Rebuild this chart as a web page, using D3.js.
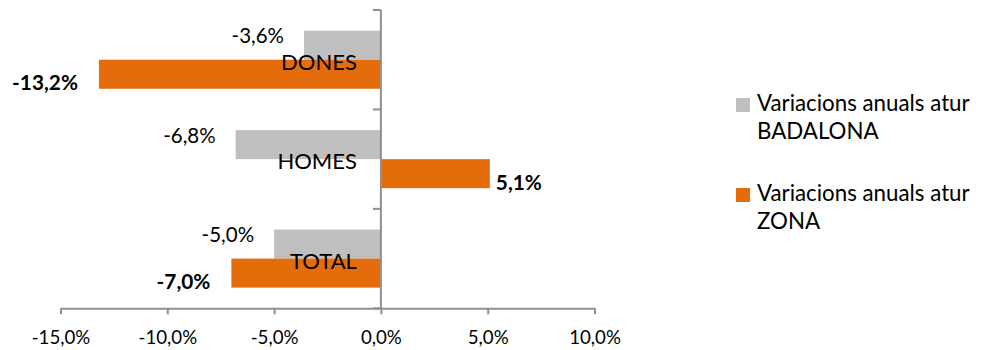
<!DOCTYPE html>
<html>
<head>
<meta charset="utf-8">
<script src="https://cdn.jsdelivr.net/npm/d3@7"></script>
<style>
  html, body { margin: 0; padding: 0; background: #fff; }
  svg { display: block; font-family: Lato, "Noto Sans", sans-serif; }
</style>
</head>
<body>
<svg id="chart" width="982" height="350"></svg>
<script>
// ---- data ----
const categories = ["DONES", "HOMES", "TOTAL"];
const seriesNames = ["Variacions anuals atur BADALONA", "Variacions anuals atur ZONA"];
const legendLines = [["Variacions anuals atur", "BADALONA"], ["Variacions anuals atur", "ZONA"]];
const badalona = [-3.6, -6.8, -5.0];
const zona = [-13.2, 5.1, -7.0];
const xTicks = [-15, -10, -5, 0, 5, 10];
const colors = ["#BFBFBF", "#E46C0A"];

const fmt = v => d3.format(".1f")(v).replace(".", ",").replace("−", "-") + "%";

const svg = d3.select("#chart");
const x = d3.scaleLinear().domain([-15, 10]).range([60.5, 594.5]);
const y = d3.scaleBand().domain(categories).range([10, 308.3]).paddingInner(0.416).paddingOuter(0.208);
const yFull = d3.scaleBand().domain(categories).range([10, 308.3]).padding(0);
const ySub = d3.scaleBand().domain([0, 1]).range([0, y.bandwidth()]).padding(0);

const axisColor = "#8f8f8f";

// bars
const seriesVals = [badalona, zona];
seriesVals.forEach((vals, si) => {
  svg.append("g").selectAll("rect").data(vals).join("rect")
    .attr("x", d => x(Math.min(0, d)))
    .attr("width", d => Math.abs(x(d) - x(0)))
    .attr("y", (d, i) => y(categories[i]) + ySub(si))
    .attr("height", ySub.bandwidth())
    .attr("fill", colors[si]);
});

// x axis
const xAxis = d3.axisBottom(x).tickValues(xTicks).tickSize(6).tickSizeOuter(0).tickFormat(fmt);
const gx = svg.append("g").attr("transform", "translate(0,308.3)").call(xAxis);
gx.select(".domain").attr("stroke", axisColor).attr("stroke-width", 2);
gx.selectAll(".tick line").attr("stroke", axisColor).attr("stroke-width", 2);
gx.selectAll(".tick text").attr("font-size", 18.7).attr("fill", "#000")
  .attr("font-family", "Lato").attr("y", 36).attr("dy", null);

// y axis (at zero)
const gy = svg.append("g");
gy.append("line").attr("x1", x(0)).attr("x2", x(0)).attr("y1", 10).attr("y2", 308.3)
  .attr("stroke", axisColor).attr("stroke-width", 2);
const yTickPos = categories.map(c => yFull(c)).concat([yFull.range()[1]]);
gy.selectAll("line.t").data(yTickPos).join("line").attr("class", "t")
  .attr("x1", x(0) - 8).attr("x2", x(0)).attr("y1", d => d).attr("y2", d => d)
  .attr("stroke", axisColor).attr("stroke-width", 2);

// category labels
svg.append("g").selectAll("text").data(categories).join("text")
  .attr("x", x(0) - 24)
  .attr("y", d => yFull(d) + yFull.bandwidth() / 2 + 10)
  .attr("text-anchor", "end")
  .attr("font-size", 22).attr("fill", "#000")
  .text(d => d);

// data labels
// badalona: normal weight, above-left
svg.append("g").selectAll("text").data(badalona).join("text")
  .attr("x", d => d < 0 ? x(d) - 20 : x(d) + 6)
  .attr("y", (d, i) => y(categories[i]) + ySub(0) + ySub.bandwidth() / 2 - 2)
  .attr("text-anchor", d => d < 0 ? "end" : "start")
  .attr("font-size", 20.5).attr("fill", "#000")
  .text(fmt);
// zona: bold, below
svg.append("g").selectAll("text").data(zona).join("text")
  .attr("x", d => d < 0 ? x(d) - 21 : x(d) + 6)
  .attr("y", (d, i) => y(categories[i]) + ySub(1) + ySub.bandwidth() / 2 + 16)
  .attr("text-anchor", d => d < 0 ? "end" : "start")
  .attr("font-size", 20.8).attr("font-weight", "bold").attr("fill", "#000")
  .text(fmt);

// legend
const legendBase = [111, 201];
const lg = svg.append("g");
legendLines.forEach((lines, i) => {
  lg.append("rect").attr("x", 736).attr("y", legendBase[i] - 13).attr("width", 14).attr("height", 14)
    .attr("fill", colors[i]);
  lines.forEach((ln, j) => {
    lg.append("text").attr("x", 757).attr("y", legendBase[i] + j * 28)
      .attr("font-size", 22.3).attr("fill", "#000").text(ln);
  });
});
</script>
</body>
</html>
